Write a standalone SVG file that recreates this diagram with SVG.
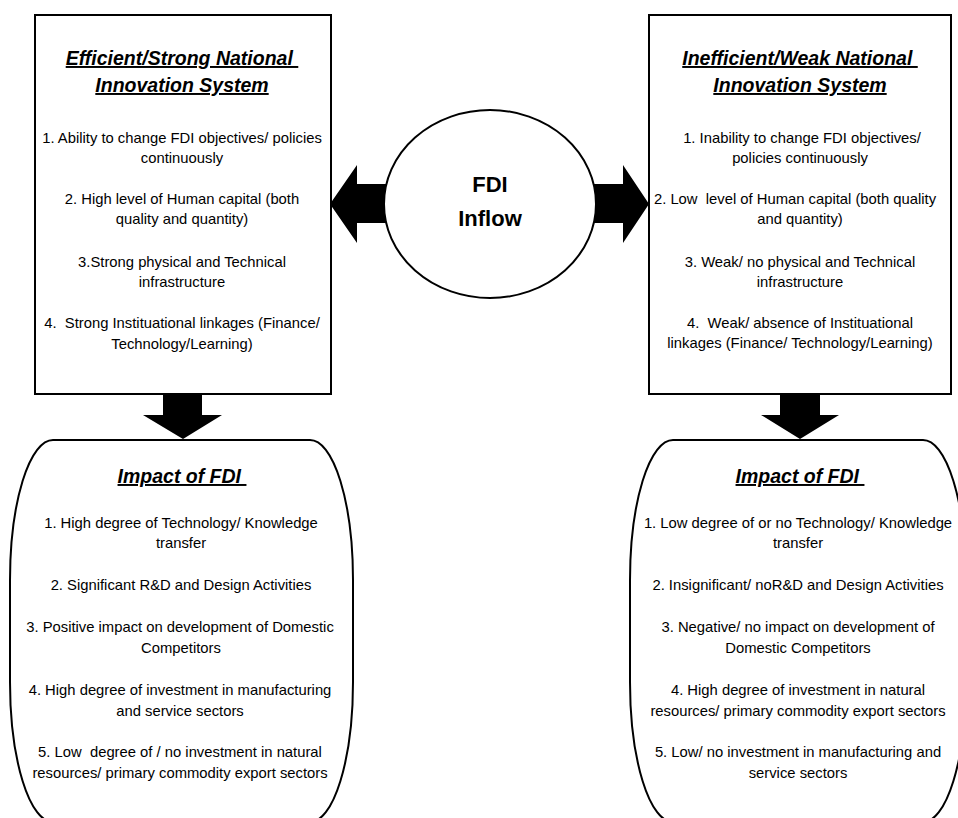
<svg xmlns="http://www.w3.org/2000/svg" width="958" height="818" viewBox="0 0 958 818">
<style>
.box{fill:#fff;stroke:#000;stroke-width:2}
.arr{fill:#000;stroke:none}
text{font-family:"Liberation Sans",Arial,sans-serif;fill:#000;white-space:pre;text-anchor:middle}
.t{font-size:19.5px;font-weight:bold;font-style:italic;text-decoration:underline}
.b{font-size:14.8px}
.c{font-size:22px;font-weight:bold}
</style>
<rect width="958" height="818" fill="#fff"/>
<g id="connectors">
<polygon class="arr" points="400,184 357,184 357,165 330,204 357,243 357,223 400,223"/>
<polygon class="arr" points="580,184 623,184 623,165 649,204 623,243 623,223 580,223"/>
<polygon class="arr" points="163,394 202,394 202,415 222,415 183,439 143,415 163,415"/>
<polygon class="arr" points="780,394 820,394 820,415 839,415 800,439 761,415 780,415"/>
</g>
<g id="fdi">
<ellipse class="box" cx="490" cy="204" rx="106" ry="94"/>
<text class="c" x="490" y="192">FDI</text>
<text class="c" x="490" y="226">Inflow</text>
</g>
<g id="strong-nis">
<rect class="box" x="35" y="15" width="296" height="379"/>
<text class="t" x="182" y="65">Efficient/Strong National </text>
<text class="t" x="182" y="92">Innovation System</text>
<text class="b" x="182" y="143">1. Ability to change FDI objectives/ policies</text>
<text class="b" x="182" y="163">continuously</text>
<text class="b" x="182" y="204">2. High level of Human capital (both</text>
<text class="b" x="182" y="224">quality and quantity)</text>
<text class="b" x="182" y="267">3.Strong physical and Technical</text>
<text class="b" x="182" y="287">infrastructure</text>
<text class="b" x="182" y="328">4.  Strong Instituational linkages (Finance/</text>
<text class="b" x="182" y="349">Technology/Learning)</text>
</g>
<g id="weak-nis">
<rect class="box" x="649" y="15" width="302" height="379"/>
<text class="t" x="800" y="65">Inefficient/Weak National </text>
<text class="t" x="800" y="92">Innovation System</text>
<text class="b" x="802" y="143">1. Inability to change FDI objectives/</text>
<text class="b" x="800" y="163">policies continuously</text>
<text class="b" x="795" y="204">2. Low  level of Human capital (both quality</text>
<text class="b" x="800" y="224">and quantity)</text>
<text class="b" x="800" y="267">3. Weak/ no physical and Technical</text>
<text class="b" x="800" y="287">infrastructure</text>
<text class="b" x="800" y="328">4.  Weak/ absence of Instituational</text>
<text class="b" x="800" y="348">linkages (Finance/ Technology/Learning)</text>
</g>
<g id="impact-strong">
<path class="box" d="M53 440H310A43 140 0 0 1 353 580V682A43 140 0 0 1 310 822H53A43 140 0 0 1 10 682V580A43 140 0 0 1 53 440Z"/>
<text class="t" x="182" y="483">Impact of FDI </text>
<text class="b" x="181" y="528">1. High degree of Technology/ Knowledge</text>
<text class="b" x="181" y="548">transfer</text>
<text class="b" x="181" y="590">2. Significant R&amp;D and Design Activities</text>
<text class="b" x="180" y="632">3. Positive impact on development of Domestic</text>
<text class="b" x="181" y="653">Competitors</text>
<text class="b" x="180" y="695">4. High degree of investment in manufacturing</text>
<text class="b" x="180" y="716">and service sectors</text>
<text class="b" x="180" y="757">5. Low  degree of / no investment in natural</text>
<text class="b" x="180" y="778">resources/ primary commodity export sectors</text>
</g>
<g id="impact-weak">
<path class="box" d="M673 440H923A43 140 0 0 1 966 580V682A43 140 0 0 1 923 822H673A43 140 0 0 1 630 682V580A43 140 0 0 1 673 440Z"/>
<text class="t" x="800" y="483">Impact of FDI </text>
<text class="b" x="798" y="528">1. Low degree of or no Technology/ Knowledge</text>
<text class="b" x="798" y="548">transfer</text>
<text class="b" x="798" y="590">2. Insignificant/ noR&amp;D and Design Activities</text>
<text class="b" x="798" y="632">3. Negative/ no impact on development of</text>
<text class="b" x="798" y="653">Domestic Competitors</text>
<text class="b" x="798" y="695">4. High degree of investment in natural</text>
<text class="b" x="798" y="716">resources/ primary commodity export sectors</text>
<text class="b" x="798" y="757">5. Low/ no investment in manufacturing and</text>
<text class="b" x="798" y="778">service sectors</text>
</g>
</svg>
